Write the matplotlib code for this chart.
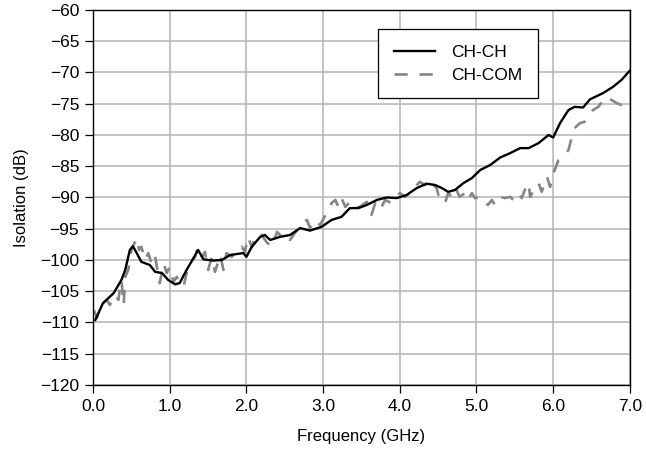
import numpy as np
import matplotlib
matplotlib.use('Agg')
import matplotlib.pyplot as plt

plt.rcParams['font.family'] = ['Liberation Sans', 'DejaVu Sans']

# CH-CH (black solid)
ch_f = [0.03, 0.13, 0.27, 0.37, 0.42, 0.48, 0.52, 0.57, 0.63, 0.74, 0.81, 0.90,
        0.98, 1.07, 1.13, 1.22, 1.31, 1.37, 1.44, 1.57, 1.68, 1.79, 1.96, 2.00,
        2.07, 2.18, 2.24, 2.31, 2.44, 2.57, 2.70, 2.83, 2.98, 3.11, 3.24, 3.35,
        3.46, 3.57, 3.70, 3.83, 3.96, 4.09, 4.22, 4.35, 4.46, 4.55, 4.63, 4.72,
        4.83, 4.94, 5.05, 5.18, 5.31, 5.44, 5.57, 5.68, 5.81, 5.94, 6.00, 6.09,
        6.20, 6.28, 6.39, 6.48, 6.65, 6.78, 6.89, 7.00]
ch_db = [-109.6, -106.9, -105.3, -103.2, -101.6, -98.4, -97.8, -98.9, -100.3, -100.8,
         -101.9, -102.1, -103.2, -103.9, -103.7, -101.6, -99.7, -98.4, -99.9, -100.1,
         -100.0, -99.2, -98.9, -99.5, -97.9, -96.3, -96.0, -96.8, -96.3, -96.0,
         -94.9, -95.3, -94.7, -93.6, -93.1, -91.7, -91.7, -91.2, -90.4, -90.0,
         -90.1, -89.6, -88.5, -87.8, -88.0, -88.5, -89.1, -88.8, -87.7, -86.9,
         -85.6, -84.8, -83.6, -82.9, -82.1, -82.1, -81.3, -80.0, -80.4, -78.1,
         -76.0, -75.5, -75.6, -74.3, -73.3, -72.3, -71.2, -69.7]

# CH-COM (grey dashed)
com_f = [0.01, 0.05, 0.11, 0.18, 0.22, 0.29, 0.33, 0.37, 0.40, 0.42, 0.46, 0.50,
         0.57, 0.60, 0.63, 0.68, 0.72, 0.77, 0.81, 0.87, 0.92, 0.96, 1.00, 1.05,
         1.09, 1.13, 1.18, 1.22, 1.26, 1.33, 1.37, 1.42, 1.46, 1.50, 1.55, 1.59,
         1.66, 1.70, 1.74, 1.81, 1.87, 1.94, 1.98, 2.02, 2.07, 2.11, 2.16, 2.20,
         2.26, 2.33, 2.40, 2.46, 2.53, 2.57, 2.63, 2.72, 2.79, 2.83, 2.89, 2.96,
         3.02, 3.07, 3.11, 3.16, 3.20, 3.24, 3.29, 3.35, 3.42, 3.48, 3.57, 3.63,
         3.68, 3.74, 3.81, 3.89, 3.96, 4.00, 4.07, 4.13, 4.20, 4.26, 4.33, 4.39,
         4.44, 4.48, 4.52, 4.59, 4.63, 4.70, 4.74, 4.78, 4.85, 4.89, 4.94, 4.98,
         5.05, 5.11, 5.15, 5.20, 5.24, 5.31, 5.37, 5.44, 5.48, 5.55, 5.59, 5.63,
         5.68, 5.70, 5.76, 5.81, 5.85, 5.92, 5.96, 6.02, 6.07, 6.13, 6.20, 6.24,
         6.28, 6.35, 6.41, 6.45, 6.52, 6.59, 6.65, 6.72, 6.76, 6.83, 6.89, 6.94,
         7.00]
com_db = [-108.0, -109.3, -107.2, -106.4, -107.2, -105.6, -106.4, -103.2, -107.2, -102.7,
          -101.6, -98.4, -96.5, -98.4, -97.9, -100.0, -98.9, -100.8, -99.5, -103.7,
          -100.5, -102.1, -101.1, -103.5, -102.7, -103.5, -104.3, -102.1, -100.5, -99.5,
          -97.9, -99.5, -98.7, -101.6, -99.5, -101.9, -99.2, -101.6, -98.9, -99.5,
          -98.7, -97.9, -98.7, -96.3, -97.9, -96.5, -95.7, -96.0, -97.1, -97.9,
          -95.5, -96.3, -96.0, -96.8, -95.7, -94.4, -93.6, -94.9, -93.6, -94.4,
          -93.1, -92.0, -90.9, -90.4, -91.5, -90.1, -91.5, -90.7, -91.7, -91.5,
          -90.7, -92.8, -90.9, -92.0, -90.4, -90.9, -89.9, -89.3, -89.9, -89.3,
          -88.3, -87.5, -88.0, -87.0, -88.0, -88.5, -90.4, -90.9, -89.3, -90.1,
          -88.8, -89.9, -89.3, -90.4, -89.3, -90.1, -89.9, -90.7, -91.2, -90.4,
          -91.2, -89.9, -90.1, -89.9, -90.4, -89.3, -90.1, -88.8, -87.7, -89.9,
          -88.5, -87.7, -89.1, -86.7, -88.3, -85.6, -84.0, -83.5, -82.4, -80.5,
          -78.9, -78.1, -77.9, -77.1, -76.0, -75.5, -74.4, -73.9, -74.4, -74.9,
          -75.2, -74.7, -74.4]

x_ticks = np.arange(0, 7.01, 1.0)
y_ticks = np.arange(-120, -59, 5)

fig = plt.figure(figsize=(6.46, 4.55), dpi=100)
ax = fig.add_axes([0.144, 0.154, 0.831, 0.824])

ax.plot(ch_f, ch_db, color='black', lw=1.7, label='CH-CH', zorder=3)
ax.plot(com_f, com_db, color='#858585', lw=1.9, linestyle=(0, (5, 4.5)),
        label='CH-COM', zorder=2)

ax.set_xlim(0, 7)
ax.set_ylim(-120, -60)
ax.set_xticks(x_ticks)
ax.set_xticklabels([f'{v:.1f}' for v in x_ticks])
ax.set_yticks(y_ticks)
ax.set_yticklabels([f'\u2212{abs(v)}' for v in y_ticks])
ax.grid(True, color='#b4b4b4', lw=1.1)
ax.set_axisbelow(True)
ax.tick_params(direction='out', length=6, width=0.9, labelsize=12.5, pad=4)
for s in ax.spines.values():
    s.set_linewidth(1.0)

ax.set_xlabel('Frequency (GHz)', fontsize=12, labelpad=11)
ax.set_ylabel('Isolation (dB)', fontsize=12, labelpad=8)

leg = ax.legend(loc='upper left', bbox_to_anchor=(0.531, 0.949), borderaxespad=0,
                fontsize=12.5, handlelength=2.4, handletextpad=0.9, labelspacing=0.45,
                borderpad=0.9, fancybox=False, framealpha=1, edgecolor='black')
leg.get_frame().set_linewidth(0.9)

fig.savefig('out.png', dpi=100)
